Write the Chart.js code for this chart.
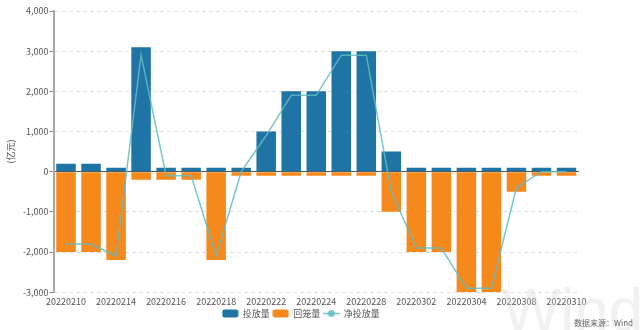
<!DOCTYPE html>
<html>
<head>
<meta charset="utf-8">
<script src="https://cdn.jsdelivr.net/npm/chart.js@4.4.1/dist/chart.umd.min.js"></script>
<style>
    body { margin: 0; background: #fff; }
    #box { position: relative; width: 640px; height: 330px; }
</style>
</head>
<body>
<div id="box"><canvas id="chart" width="640" height="330"></canvas></div>
<script>
// trading days, one label shown every other day
const dates = ['20220210', '20220211', '20220214', '20220215', '20220216', '20220217', '20220218',
    '20220221', '20220222', '20220223', '20220224', '20220225', '20220228', '20220301', '20220302',
    '20220303', '20220304', '20220307', '20220308', '20220309', '20220310'];
// 投放量 (亿元)
const injection = [200, 200, 100, 3100, 100, 100, 100, 100, 1000, 2000, 2000, 3000, 3000, 500,
    100, 100, 100, 100, 100, 100, 100];
// 回笼量 (亿元)
const maturity = [-2000, -2000, -2200, -200, -200, -200, -2200, -100, -100, -100, -100, -100, -100,
    -1000, -2000, -2000, -3000, -3000, -500, -100, -100];
// 净投放量 (亿元)
const netInjection = [-1800, -1800, -2100, 2900, -100, -100, -2100, 0, 900, 1900, 1900, 2900, 2900,
    -500, -1900, -1900, -2900, -2900, -400, 0, 0];
const yTicks = [-3000, -2000, -1000, 0, 1000, 2000, 3000, 4000];

const BLUE = '#1f74a6';
const ORANGE = '#f5891c';
const TEAL = 'rgba(98,188,194,0.85)';
const FONT = "'Noto Sans CJK SC', sans-serif";

// little pictures for the legend
function boxImg(color) {
    const c = document.createElement('canvas');
    c.width = 17; c.height = 9;
    const g = c.getContext('2d');
    g.fillStyle = color;
    g.beginPath();
    if (g.roundRect) g.roundRect(0.5, 0.5, 16, 8, 2); else g.rect(0.5, 0.5, 16, 8);
    g.fill();
    return c;
}
function lineImg(color) {
    const c = document.createElement('canvas');
    c.width = 17; c.height = 9;
    const g = c.getContext('2d');
    g.strokeStyle = color; g.lineWidth = 1.5;
    g.beginPath(); g.moveTo(0, 4.5); g.lineTo(17, 4.5); g.stroke();
    g.fillStyle = color;
    g.beginPath(); g.arc(8.5, 4.5, 3.5, 0, Math.PI * 2); g.fill();
    return c;
}
const legendImgs = [boxImg(BLUE), boxImg(ORANGE), lineImg(TEAL)];

// watermark, source note, legend nudged into place
const extras = {
    id: 'extras',
    afterLayout(chart) {
        const lg = chart.legend;
        lg.right += 23;
        lg.top -= 5;
        lg.bottom -= 5;
    },
    beforeDatasetsDraw(chart) {
        const ctx = chart.ctx;
        ctx.save();
        ctx.fillStyle = 'rgba(215,215,215,0.35)';
        ctx.font = "62px 'Liberation Sans', sans-serif";
        ctx.textBaseline = 'alphabetic';
        ctx.fillText('Wind', 502, 331);
        ctx.restore();
    },
    afterDraw(chart) {
        const ctx = chart.ctx;
        ctx.save();
        ctx.fillStyle = '#666';
        ctx.font = "8px 'Noto Sans CJK SC', sans-serif";
        ctx.textAlign = 'right';
        ctx.textBaseline = 'middle';
        ctx.fillText('数据来源：Wind', 633, 323);
        ctx.restore();
    }
};

new Chart(document.getElementById('chart'), {
    type: 'bar',
    data: {
        labels: dates,
        datasets: [{
            label: '投放量',
            data: injection,
            backgroundColor: BLUE,
            barPercentage: 0.78,
            categoryPercentage: 1,
            stack: 'flow',
            order: 2
        }, {
            label: '回笼量',
            data: maturity,
            backgroundColor: ORANGE,
            barPercentage: 0.78,
            categoryPercentage: 1,
            stack: 'flow',
            order: 2
        }, {
            type: 'line',
            label: '净投放量',
            data: netInjection,
            borderColor: TEAL,
            backgroundColor: TEAL,
            borderWidth: 1.5,
            pointRadius: 0,
            tension: 0,
            stack: 'net',
            order: 1
        }]
    },
    options: {
        responsive: false,
        animation: false,
        layout: { padding: { top: 11, right: 61, bottom: -3, left: 0 } },
        scales: {
            x: {
                stacked: true,
                grid: { display: false, drawTicks: false },
                border: { display: false },
                ticks: {
                    autoSkip: false,
                    maxRotation: 0,
                    padding: 4,
                    color: '#555',
                    font: { family: FONT, size: 9 },
                    callback: function(v, i) {
                        return i % 2 === 0 ? this.getLabelForValue(v) : '';
                    }
                }
            },
            y: {
                stacked: true,
                min: yTicks[0],
                max: yTicks[yTicks.length - 1],
                afterBuildTicks: (s) => { s.ticks = yTicks.map(v => ({ value: v })); },
                afterFit: (s) => { s.width = 53.5; },
                grid: {
                    color: (c) => c.tick && c.tick.value === 0 ? '#555' : '#ddd',
                    tickColor: '#888',
                    tickLength: 4
                },
                border: {
                    color: '#aaa',
                    width: 2,
                    dash: (c) => c.tick && c.tick.value === 0 ? [] : [4, 3]
                },
                ticks: {
                    padding: 1,
                    color: '#555',
                    font: { family: FONT, size: 9 }
                },
                title: {
                    display: true,
                    text: '(亿元)',
                    color: '#555',
                    font: { family: FONT, size: 9 },
                    padding: { top: 5, bottom: 0 }
                }
            }
        },
        plugins: {
            tooltip: { enabled: false },
            legend: {
                position: 'bottom',
                labels: {
                    usePointStyle: true,
                    pointStyleWidth: 16,
                    padding: 3,
                    color: '#555',
                    font: { family: FONT, size: 9 },
                    generateLabels: (chart) => chart.data.datasets.map((d, i) => ({
                        text: d.label,
                        datasetIndex: i,
                        pointStyle: legendImgs[i],
                        fillStyle: d.backgroundColor,
                        strokeStyle: d.backgroundColor,
                        lineWidth: 0,
                        hidden: false,
                        fontColor: '#555'
                    }))
                }
            }
        }
    },
    plugins: [extras]
});
</script>
</body>
</html>
